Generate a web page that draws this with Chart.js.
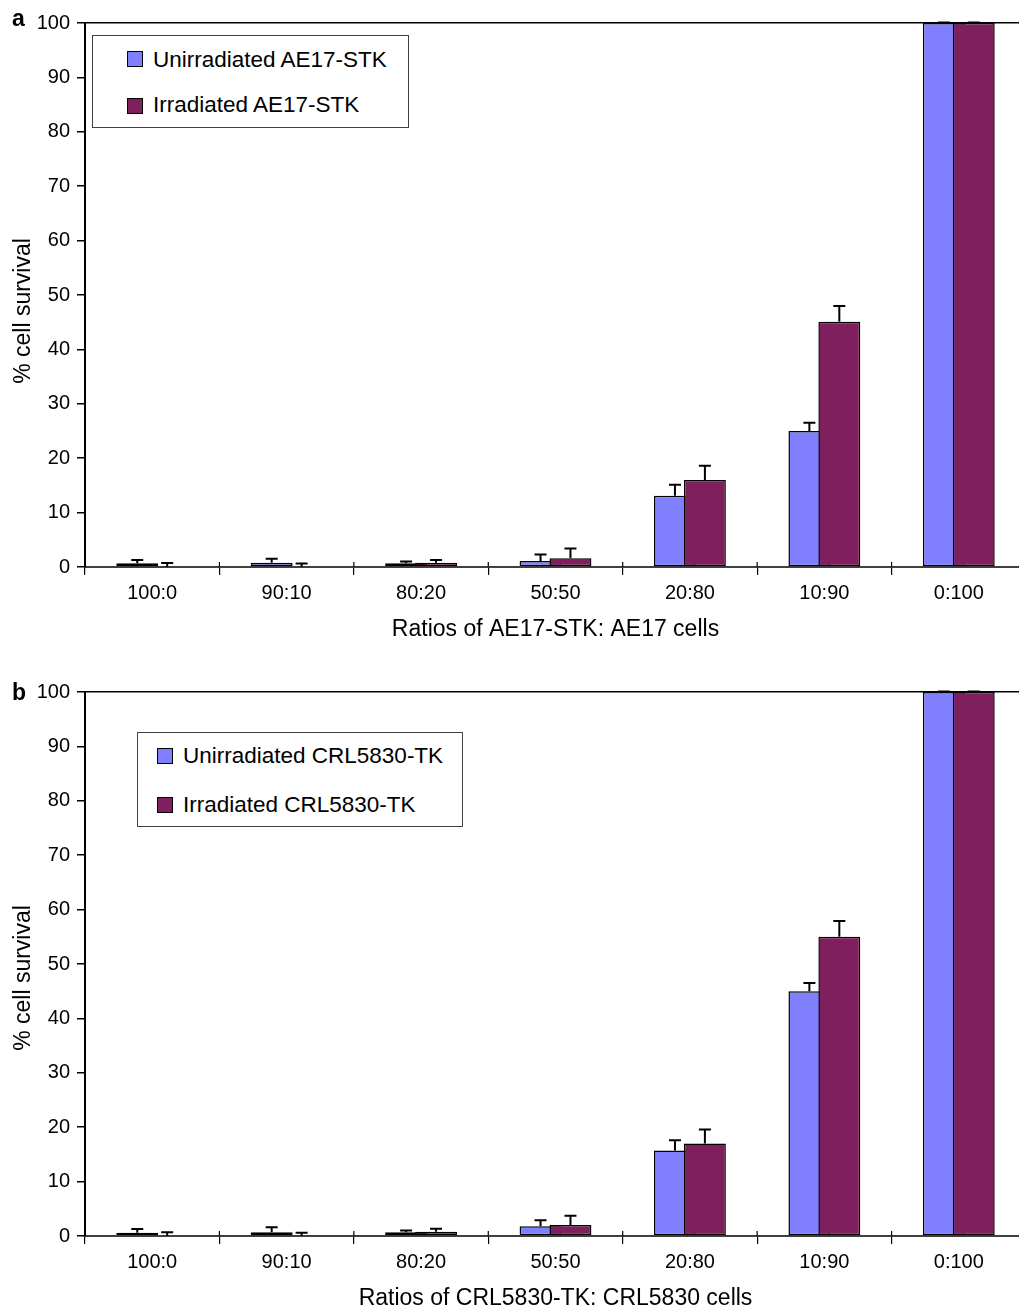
<!DOCTYPE html>
<html><head><meta charset="utf-8">
<script src="https://cdn.jsdelivr.net/npm/chart.js@4"></script>
<style>
html,body{margin:0;padding:0;background:#fff;overflow:hidden;width:1019px;height:1310px;}
.wrap{position:absolute;left:0;width:1040px;height:650px;}
#wa{top:0}
#wb{top:669px}
.lbl{position:absolute;font:bold 23px 'Liberation Sans',Arial,sans-serif;line-height:23px;color:#000;}
.ytitle{position:absolute;left:22px;width:0;height:0;}
.ytitle span{position:absolute;left:0;top:0;transform:translate(-50%,-50%) rotate(-90deg);white-space:nowrap;font:23px 'Liberation Sans',Arial,sans-serif;line-height:28px;color:#000;}
.leg{position:absolute;border:1px solid #404040;background:#fff;box-sizing:border-box;font-family:'Liberation Sans',Arial,sans-serif;font-size:22.5px;color:#000;}
.item{position:absolute;height:30px;line-height:30px;white-space:nowrap;}
.sw{position:absolute;width:16px;height:16px;box-sizing:border-box;border:1.5px solid #000;}
</style>
</head><body>
<div class="wrap" id="wa"><canvas id="ca"></canvas></div>
<div class="wrap" id="wb"><canvas id="cb"></canvas></div>
<div class="lbl" style="left:12px;top:7px;">a</div>
<div class="lbl" style="left:12px;top:681px;">b</div>
<div class="ytitle" style="top:311px;"><span>% cell survival</span></div>
<div class="ytitle" style="top:978px;"><span>% cell survival</span></div>

<div class="leg" style="left:92px;top:35px;width:317px;height:93px;">
  <div class="sw" style="left:34px;top:15px;background:#8080FF;"></div>
  <div class="item" style="left:60px;top:9px;">Unirradiated AE17-STK</div>
  <div class="sw" style="left:34px;top:62px;background:#801F5E;"></div>
  <div class="item" style="left:60px;top:54px;">Irradiated AE17-STK</div>
</div>
<div class="leg" style="left:137px;top:732px;width:326px;height:95px;">
  <div class="sw" style="left:19px;top:15px;background:#8080FF;"></div>
  <div class="item" style="left:45px;top:8px;">Unirradiated CRL5830-TK</div>
  <div class="sw" style="left:19px;top:64px;background:#801F5E;"></div>
  <div class="item" style="left:45px;top:57px;">Irradiated CRL5830-TK</div>
</div>

<script>
// ---- data ----
const categories = ['100:0', '90:10', '80:20', '50:50', '20:80', '10:90', '0:100'];

const unirrA    = [0.7, 0.8, 0.7, 1.1, 13.1, 25.0, 100];
const unirrErrA = [0.6, 0.7, 0.3, 1.2, 2.0, 1.5, 0.1];
const irrA      = [0, 0, 0.8, 1.6, 16.0, 45.1, 100];
const irrErrA   = [0.75, 0.65, 0.5, 1.8, 2.6, 2.9, 0.1];

const unirrB    = [0.6, 0.7, 0.7, 1.8, 15.7, 45.0, 100];
const unirrErrB = [0.7, 0.9, 0.3, 1.1, 1.9, 1.5, 0.1];
const irrB      = [0, 0, 0.8, 2.0, 17.0, 55.0, 100];
const irrErrB   = [0.7, 0.6, 0.55, 1.7, 2.6, 2.9, 0.1];

const BLUE = '#8080FF';
const PURPLE = '#801F5E';

Chart.defaults.font.family = "'Liberation Sans', Arial, sans-serif";
Chart.defaults.color = '#000';

function makeChart(id, unirr, unirrErr, irr, irrErr, xTitle, uLabel, iLabel) {
  const errs = [unirrErr, irrErr];
  const plugin = {
    id: 'errOrder_' + id,
    beforeDatasetsDraw(chart) {
      const ctx = chart.ctx;
      // draw datasets in index order so the second series overlaps the first
      for (let i = 0; i < chart.data.datasets.length; i++) {
        chart.getDatasetMeta(i).controller.draw();
      }
      const ys = chart.scales.y;
      ctx.save();
      ctx.strokeStyle = '#000';
      ctx.lineWidth = 2;
      chart.data.datasets.forEach((ds, i) => {
        const meta = chart.getDatasetMeta(i);
        meta.data.forEach((bar, j) => {
          const v = ds.data[j], e = errs[i][j];
          const x = bar.x;
          const y0 = ys.getPixelForValue(v);
          const y1 = ys.getPixelForValue(v + e);
          ctx.beginPath();
          ctx.moveTo(x, y0); ctx.lineTo(x, y1);
          ctx.moveTo(x - 6, y1); ctx.lineTo(x + 6, y1);
          ctx.stroke();
        });
      });
      // small upward extension of the category ticks across the axis
      const xs = chart.scales.x;
      const n = chart.data.labels.length;
      const step = (xs.right - xs.left) / n;
      ctx.strokeStyle = '#000';
      ctx.lineWidth = 1.2;
      for (let k = 0; k <= n; k++) {
        const px = xs.left + k * step;
        ctx.beginPath();
        ctx.moveTo(px, xs.top - 5); ctx.lineTo(px, xs.top);
        ctx.stroke();
      }
      ctx.restore();
      return false;
    }
  };

  return new Chart(document.getElementById(id), {
    type: 'bar',
    data: {
      labels: categories,
      datasets: [
        { label: uLabel, data: unirr, backgroundColor: BLUE, borderColor: '#000', borderWidth: 1.5, borderSkipped: false,
          categoryPercentage: 0.4454, barPercentage: 1.4 },
        { label: iLabel, data: irr, backgroundColor: PURPLE, borderColor: '#000', borderWidth: 1.5, borderSkipped: false,
          categoryPercentage: 0.4454, barPercentage: 1.4 }
      ]
    },
    options: {
      responsive: true,
      maintainAspectRatio: false,
      animation: false,
      events: [],
      layout: { padding: { top: 23, right: 14, left: 0, bottom: 0 } },
      plugins: { legend: { display: false }, tooltip: { enabled: false } },
      scales: {
        x: {
          grid: { offset: true, drawOnChartArea: false, color: '#000', tickLength: 8, lineWidth: 1.2 },
          border: { color: '#404040', width: 2 },
          ticks: { font: { size: 20 }, color: '#000', padding: 6, maxRotation: 0, autoSkip: false },
          title: { display: true, text: xTitle, font: { size: 23 }, color: '#000', padding: { top: 0, bottom: 7 } },
          afterFit(s) { s.height = 83; }
        },
        y: {
          min: 0, max: 100,
          ticks: { stepSize: 10, font: { size: 20 }, color: '#000', padding: 7 },
          grid: {
            color: c => (c.tick && c.tick.value === 100) ? '#000' : 'rgba(0,0,0,0)',
            tickColor: '#000', tickLength: 8, lineWidth: 1.5
          },
          border: { color: '#000', width: 2 },
          title: { display: false },
          afterFit(s) { s.width = 85; }
        }
      }
    },
    plugins: [plugin]
  });
}

makeChart('ca', unirrA, unirrErrA, irrA, irrErrA, 'Ratios of AE17-STK: AE17 cells', 'Unirradiated AE17-STK', 'Irradiated AE17-STK');
makeChart('cb', unirrB, unirrErrB, irrB, irrErrB, 'Ratios of CRL5830-TK: CRL5830 cells', 'Unirradiated CRL5830-TK', 'Irradiated CRL5830-TK');
</script>
</body></html>
